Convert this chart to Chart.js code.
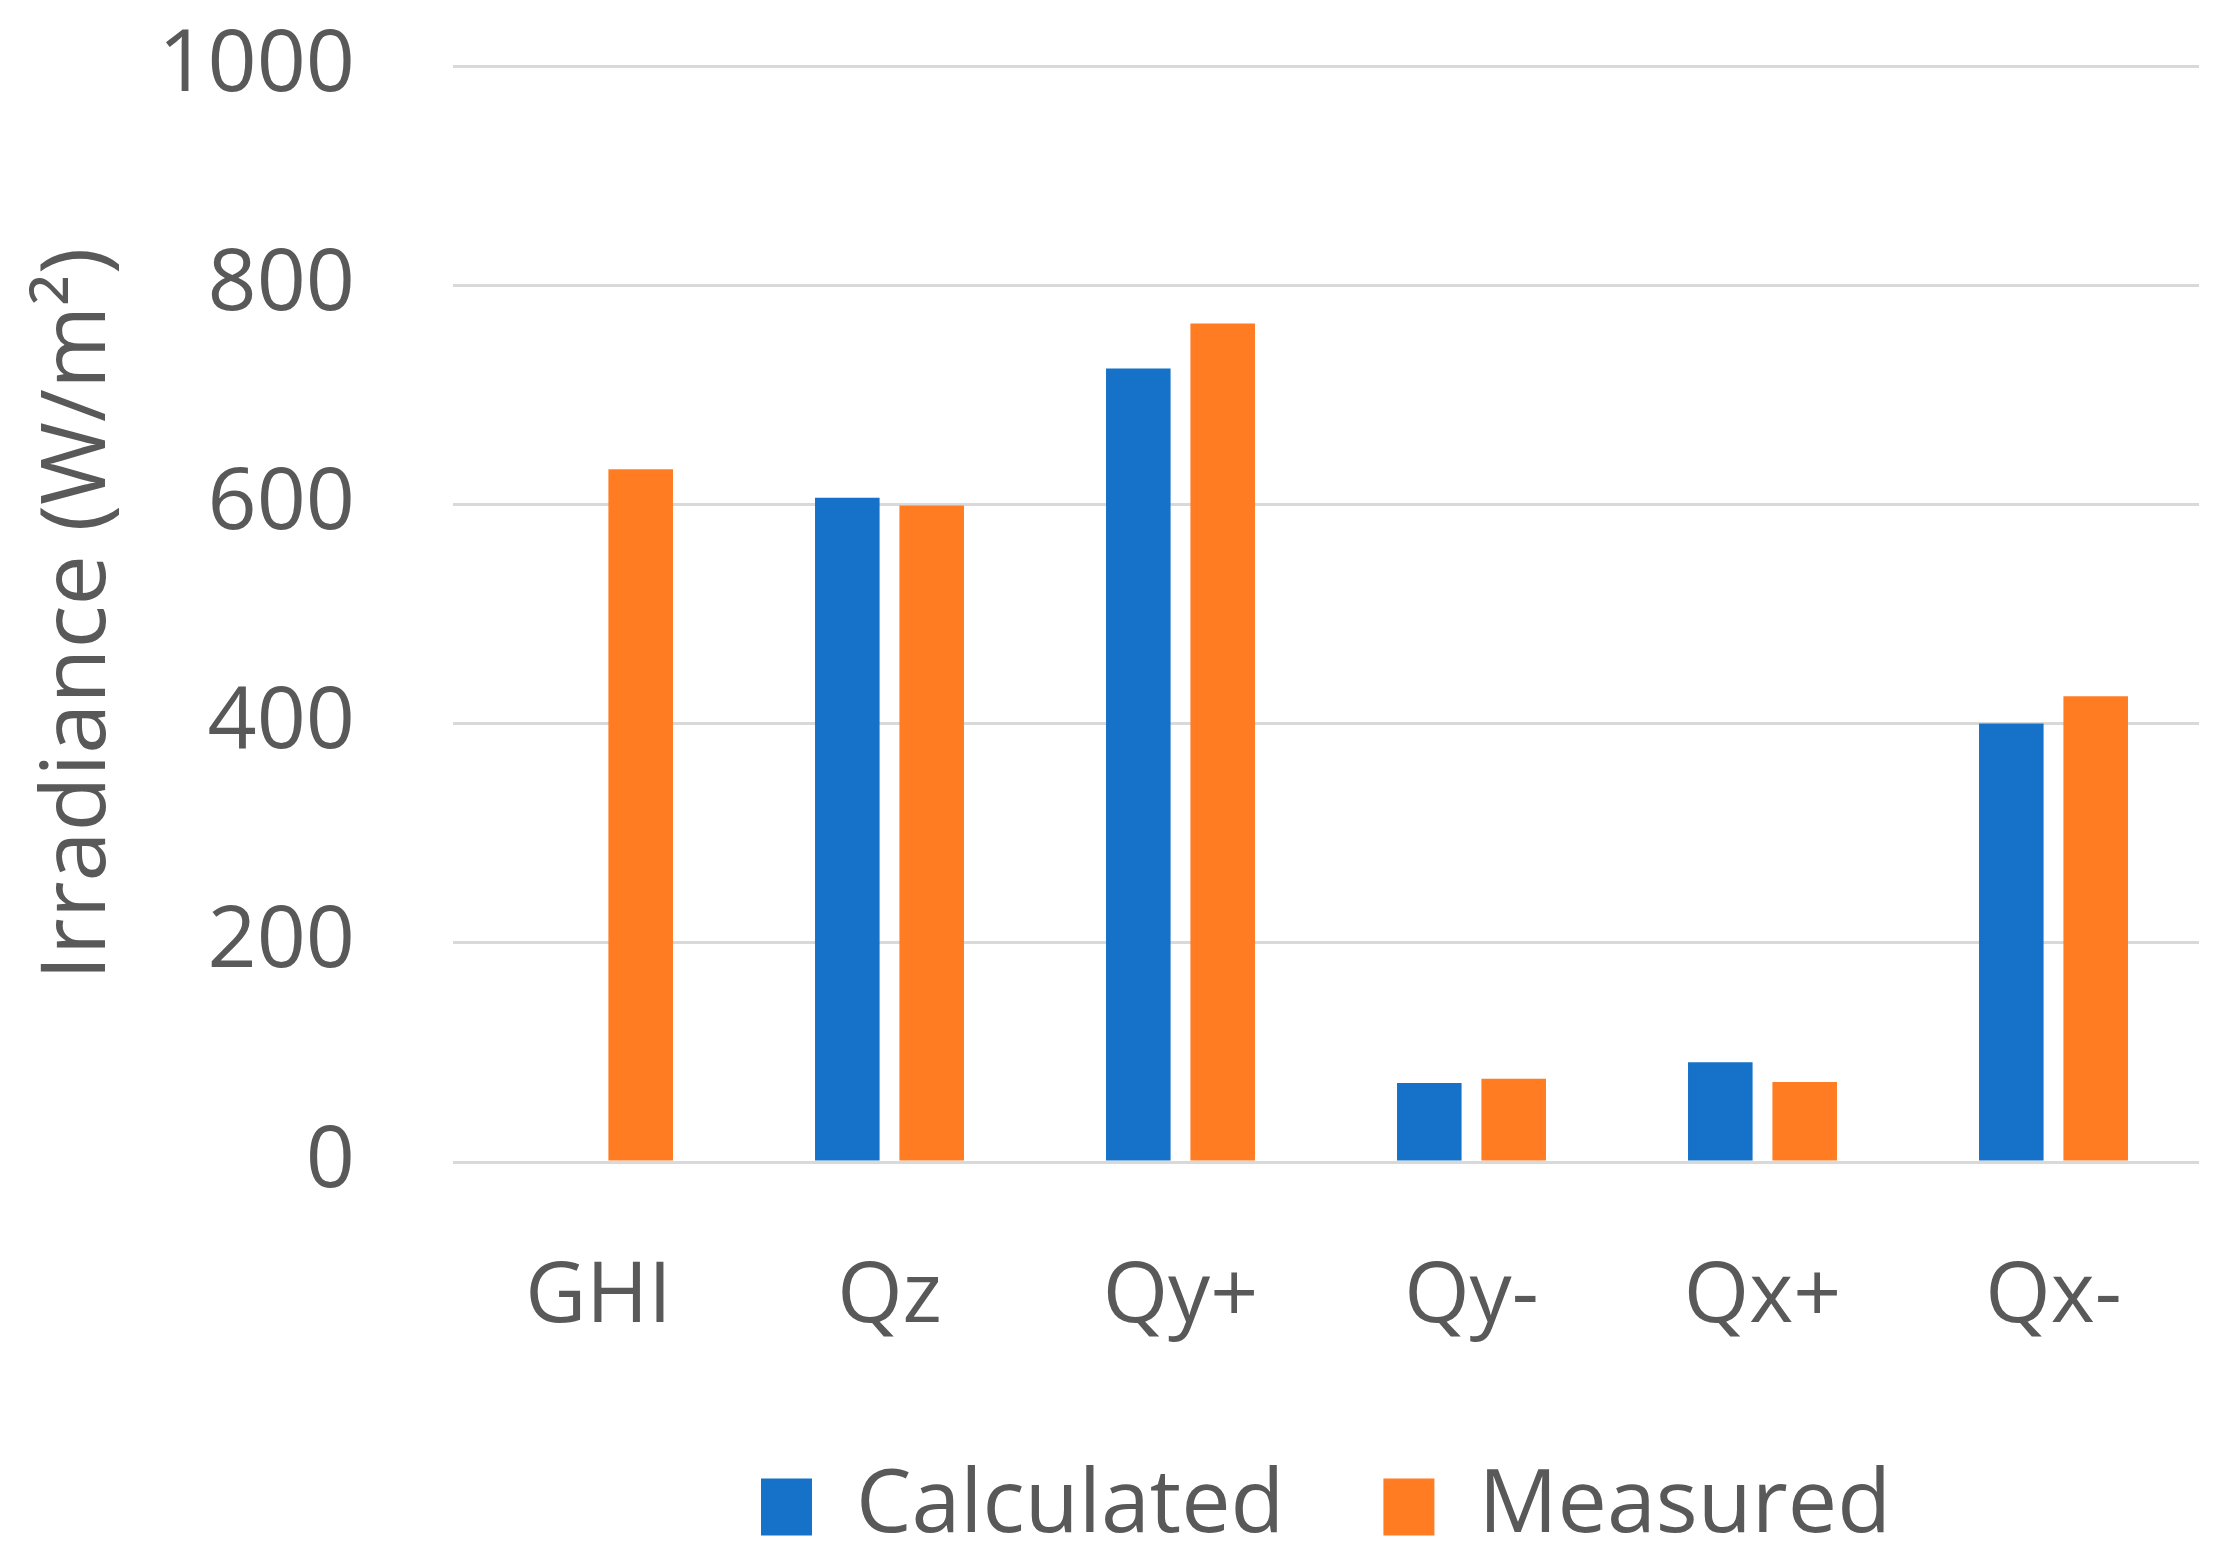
<!DOCTYPE html>
<html>
<head>
<meta charset="utf-8">
<script src="https://cdn.jsdelivr.net/npm/chart.js@4/dist/chart.umd.min.js"></script>
<style>
  body { margin: 0; background: #fff; }
  #wrap { width: 2230px; height: 1564px; }
</style>
</head>
<body>
<div id="wrap"><canvas id="myChart"></canvas></div>
<script>
const categories = ["GHI", "Qz", "Qy+", "Qy-", "Qx+", "Qx-"];
const calculated = [null, 606, 724, 72, 91, 400];
const measured = [632, 599, 765, 76, 73, 425];
const yTicks = [0, 200, 400, 600, 800, 1000];

const textColor = "#595959";
const font = "'Open Sans', 'Noto Sans', sans-serif";

const ctx = document.getElementById("myChart");
new Chart(ctx, {
  type: "bar",
  data: {
    labels: categories,
    datasets: [
      {
        label: "Calculated",
        data: calculated,
        backgroundColor: "#1572C8",
        categoryPercentage: 0.58,
        barPercentage: 0.765
      },
      {
        label: "Measured",
        data: measured,
        backgroundColor: "#FF7C22",
        categoryPercentage: 0.58,
        barPercentage: 0.765
      }
    ]
  },
  options: {
    responsive: true,
    maintainAspectRatio: false,
    devicePixelRatio: 1,
    animation: false,
    layout: { padding: { left: 25, right: 31, top: 20, bottom: 3 } },
    plugins: {
      tooltip: { enabled: false },
      legend: {
        position: "bottom",
        fullSize: false,
        labels: {
          color: textColor,
          font: { family: font, size: 88 },
          boxWidth: 51,
          boxHeight: 57,
          padding: 99
        }
      }
    },
    scales: {
      x: {
        grid: { display: false },
        border: { display: false },
        ticks: {
          color: textColor,
          font: { family: font, size: 84 },
          padding: 78
        },
        afterFit: (axis) => {
          axis.height = 202;
          axis.paddingLeft = 0;
          axis.paddingRight = 0;
        }
      },
      y: {
        min: 0,
        max: 1000,
        afterBuildTicks: (axis) => {
          axis.ticks = yTicks.map((v) => ({ value: v }));
        },
        afterFit: (axis) => {
          axis.width = 428;
          axis.paddingTop = 66;
          axis.paddingBottom = 46;
        },
        grid: { color: "#D9D9D9", lineWidth: 3, drawTicks: false },
        border: { display: false },
        ticks: {
          color: textColor,
          font: { family: font, size: 86 },
          padding: 98,
          callback: (v) => String(v)
        },
        title: {
          display: true,
          text: "Irradiance (W/m²)",
          color: textColor,
          font: { family: font, size: 90 },
          padding: { top: 0, bottom: 20 }
        }
      }
    }
  }
});
</script>
</body>
</html>
